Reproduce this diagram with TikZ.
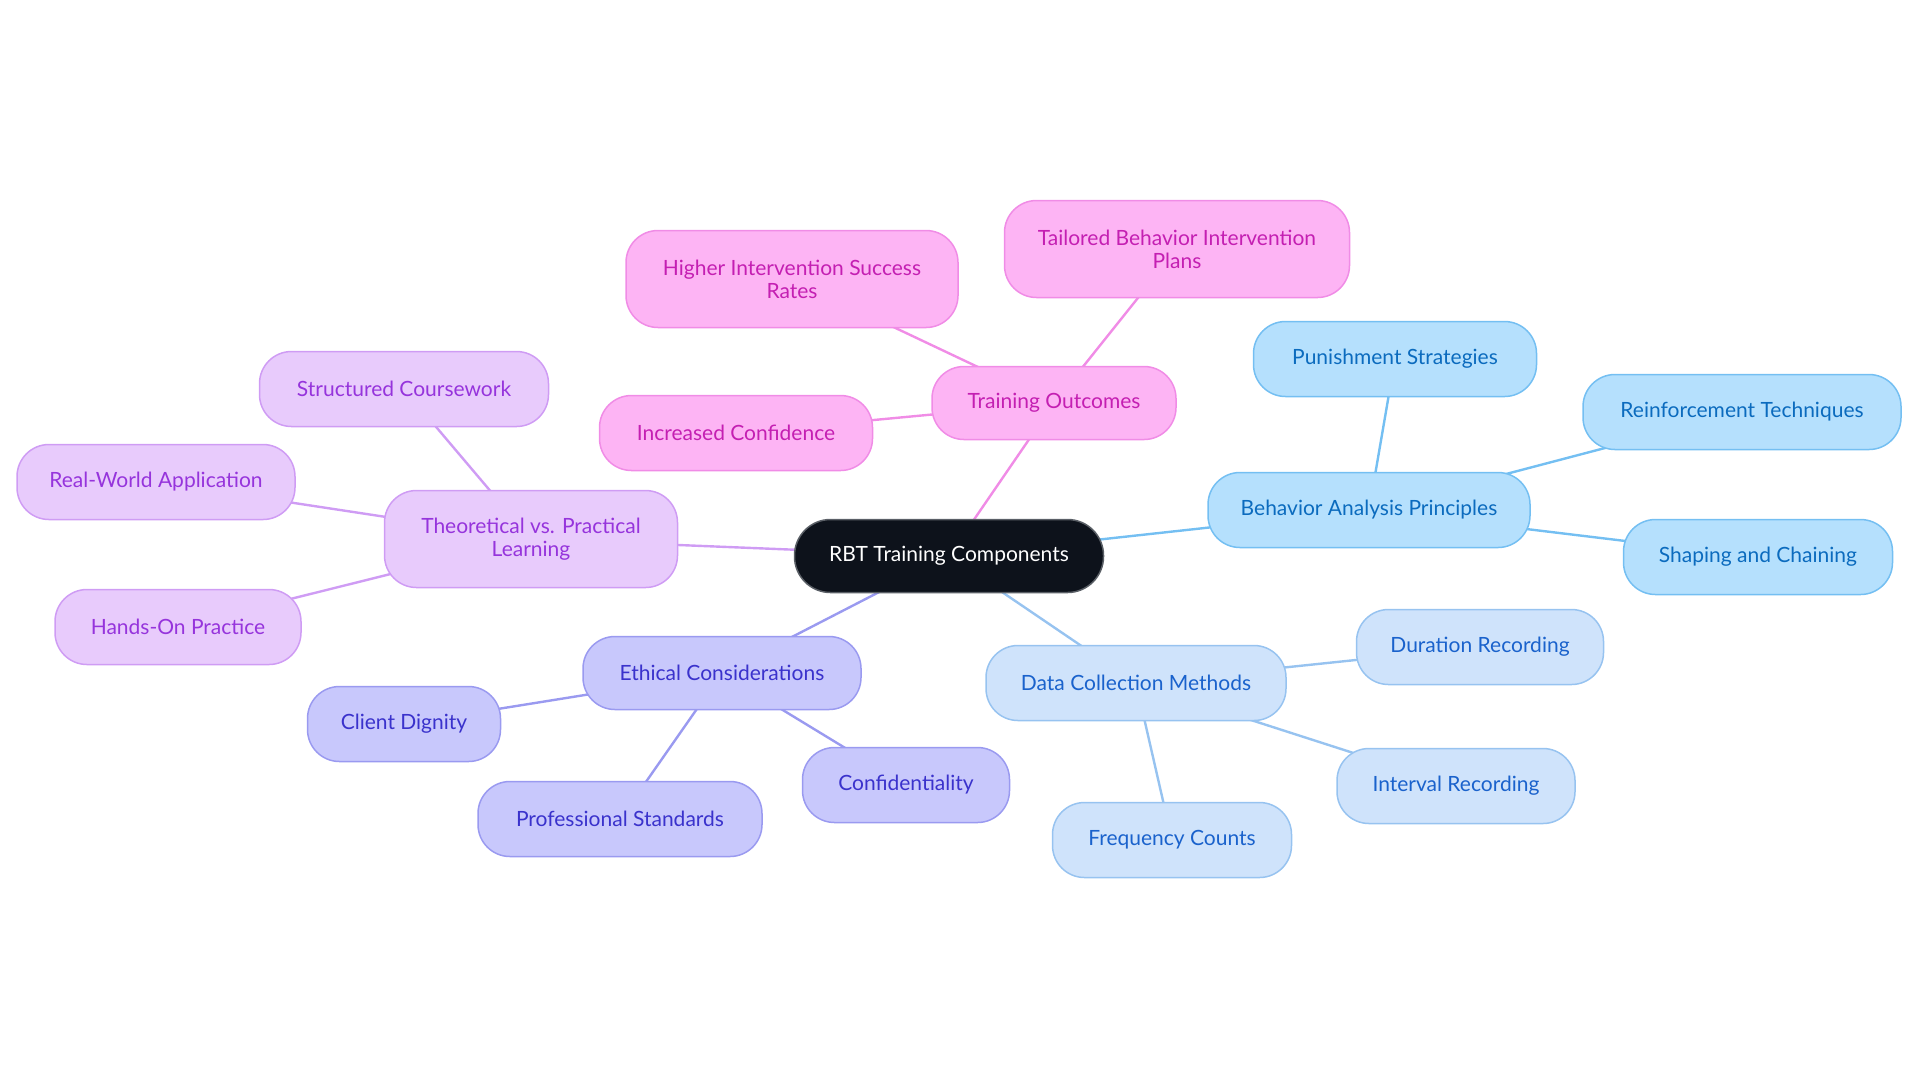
\documentclass[tikz,border=0pt]{standalone}
\usepackage{fontspec}
\setmainfont{Lato}
\usetikzlibrary{backgrounds}
\definecolor{rootfill}{HTML}{0D121B}
\definecolor{rootdraw}{HTML}{5A5F66}
\definecolor{pkfill}{HTML}{FDB4F4}
\definecolor{pkdraw}{HTML}{F08CE6}
\definecolor{pktext}{HTML}{C41FB2}
\definecolor{pufill}{HTML}{E8CBFC}
\definecolor{pudraw}{HTML}{CF9CF4}
\definecolor{putext}{HTML}{9634DC}
\definecolor{infill}{HTML}{C8C8FC}
\definecolor{indraw}{HTML}{9A9AF0}
\definecolor{intext}{HTML}{3A32CC}
\definecolor{bbfill}{HTML}{B5E0FD}
\definecolor{bbdraw}{HTML}{74BFF2}
\definecolor{bbtext}{HTML}{0B6BBE}
\definecolor{lbfill}{HTML}{CFE3FB}
\definecolor{lbdraw}{HTML}{97C3F0}
\definecolor{lbtext}{HTML}{1A62CC}
\tikzset{
  base/.style={rounded corners=16pt, inner sep=0pt, line width=0.75pt, align=center,
    font=\fontsize{10.5}{11.5}\selectfont, minimum height=37.5pt},
  tall/.style={minimum height=48.5pt},
  rootbox/.style={base, fill=rootfill, draw=rootdraw, text=white, minimum height=36.5pt, rounded corners=18pt},
  pk/.style={base, fill=pkfill, draw=pkdraw, text=pktext},
  pu/.style={base, fill=pufill, draw=pudraw, text=putext},
  ib/.style={base, fill=infill, draw=indraw, text=intext},
  bb/.style={base, fill=bbfill, draw=bbdraw, text=bbtext},
  lb/.style={base, fill=lbfill, draw=lbdraw, text=lbtext},
  pkl/.style={draw=pkdraw, line width=1.2pt},
  pul/.style={draw=pudraw, line width=1.2pt},
  inl/.style={draw=indraw, line width=1.2pt},
  bbl/.style={draw=bbdraw, line width=1.2pt},
  lbl/.style={draw=lbdraw, line width=1.2pt},
}
\begin{document}
\begin{tikzpicture}[x=0.5pt,y=-0.5pt]
\useasboundingbox (0,0) rectangle (1920,1083);
\node[rootbox, minimum width=154.5pt] (root) at (949,556) {RBT Training Components};
% pink
\node[pk, minimum width=122pt, minimum height=36.5pt] (to) at (1054,403) {Training Outcomes};
\node[pk, tall, minimum width=172.5pt] (tail) at (1177,249) {Tailored Behavior Intervention\\Plans};
\node[pk, tall, minimum width=166pt] (high) at (792,279) {Higher Intervention Success\\Rates};
\node[pk, minimum width=136.5pt] (inc) at (736,433) {Increased Confidence};
% blue
\node[bb, minimum width=161pt] (bap) at (1369,510) {Behavior Analysis Principles};
\node[bb, minimum width=141.5pt] (pun) at (1395,359) {Punishment Strategies};
\node[bb, minimum width=159pt] (rei) at (1742,412) {Reinforcement Techniques};
\node[bb, minimum width=134.5pt] (sha) at (1758,557) {Shaping and Chaining};
% light blue
\node[lb, minimum width=150pt] (dcm) at (1136,683) {Data Collection Methods};
\node[lb, minimum width=123.5pt] (dur) at (1480,647) {Duration Recording};
\node[lb, minimum width=119pt] (int) at (1456,786) {Interval Recording};
\node[lb, minimum width=119.5pt] (fre) at (1172,840) {Frequency Counts};
% indigo
\node[ib, minimum width=139pt, minimum height=36.5pt] (eth) at (722,673) {Ethical Considerations};
\node[ib, minimum width=96.5pt] (cli) at (404,724) {Client Dignity};
\node[ib, minimum width=142pt] (pro) at (620,819) {Professional Standards};
\node[ib, minimum width=103.5pt] (con) at (906,785) {Confidentiality};
% purple
\node[pu, tall, minimum width=146.5pt] (the) at (531,539) {Theoretical vs. Practical\\Learning};
\node[pu, minimum width=144.5pt] (str) at (404,389) {Structured Coursework};
\node[pu, minimum width=139pt] (rea) at (156,482) {Real-World Application};
\node[pu, minimum width=123pt] (han) at (178,627) {Hands-On Practice};
\begin{scope}[on background layer]
\draw[pkl] (root.center) -- (to.center);
\draw[pkl] (to.center) -- (tail.center);
\draw[pkl] (to.center) -- (high.center);
\draw[pkl] (to.center) -- (inc.center);
\draw[bbl] (root.center) -- (bap.center);
\draw[bbl] (bap.center) -- (pun.center);
\draw[bbl] (bap.center) -- (rei.center);
\draw[bbl] (bap.center) -- (sha.center);
\draw[lbl] (root.center) -- (dcm.center);
\draw[lbl] (dcm.center) -- (dur.center);
\draw[lbl] (dcm.center) -- (int.center);
\draw[lbl] (dcm.center) -- (fre.center);
\draw[inl] (root.center) -- (eth.center);
\draw[inl] (eth.center) -- (cli.center);
\draw[inl] (eth.center) -- (pro.center);
\draw[inl] (eth.center) -- (con.center);
\draw[pul] (root.center) -- (the.center);
\draw[pul] (the.center) -- (str.center);
\draw[pul] (the.center) -- (rea.center);
\draw[pul] (the.center) -- (han.center);
\end{scope}
\end{tikzpicture}
\end{document}
